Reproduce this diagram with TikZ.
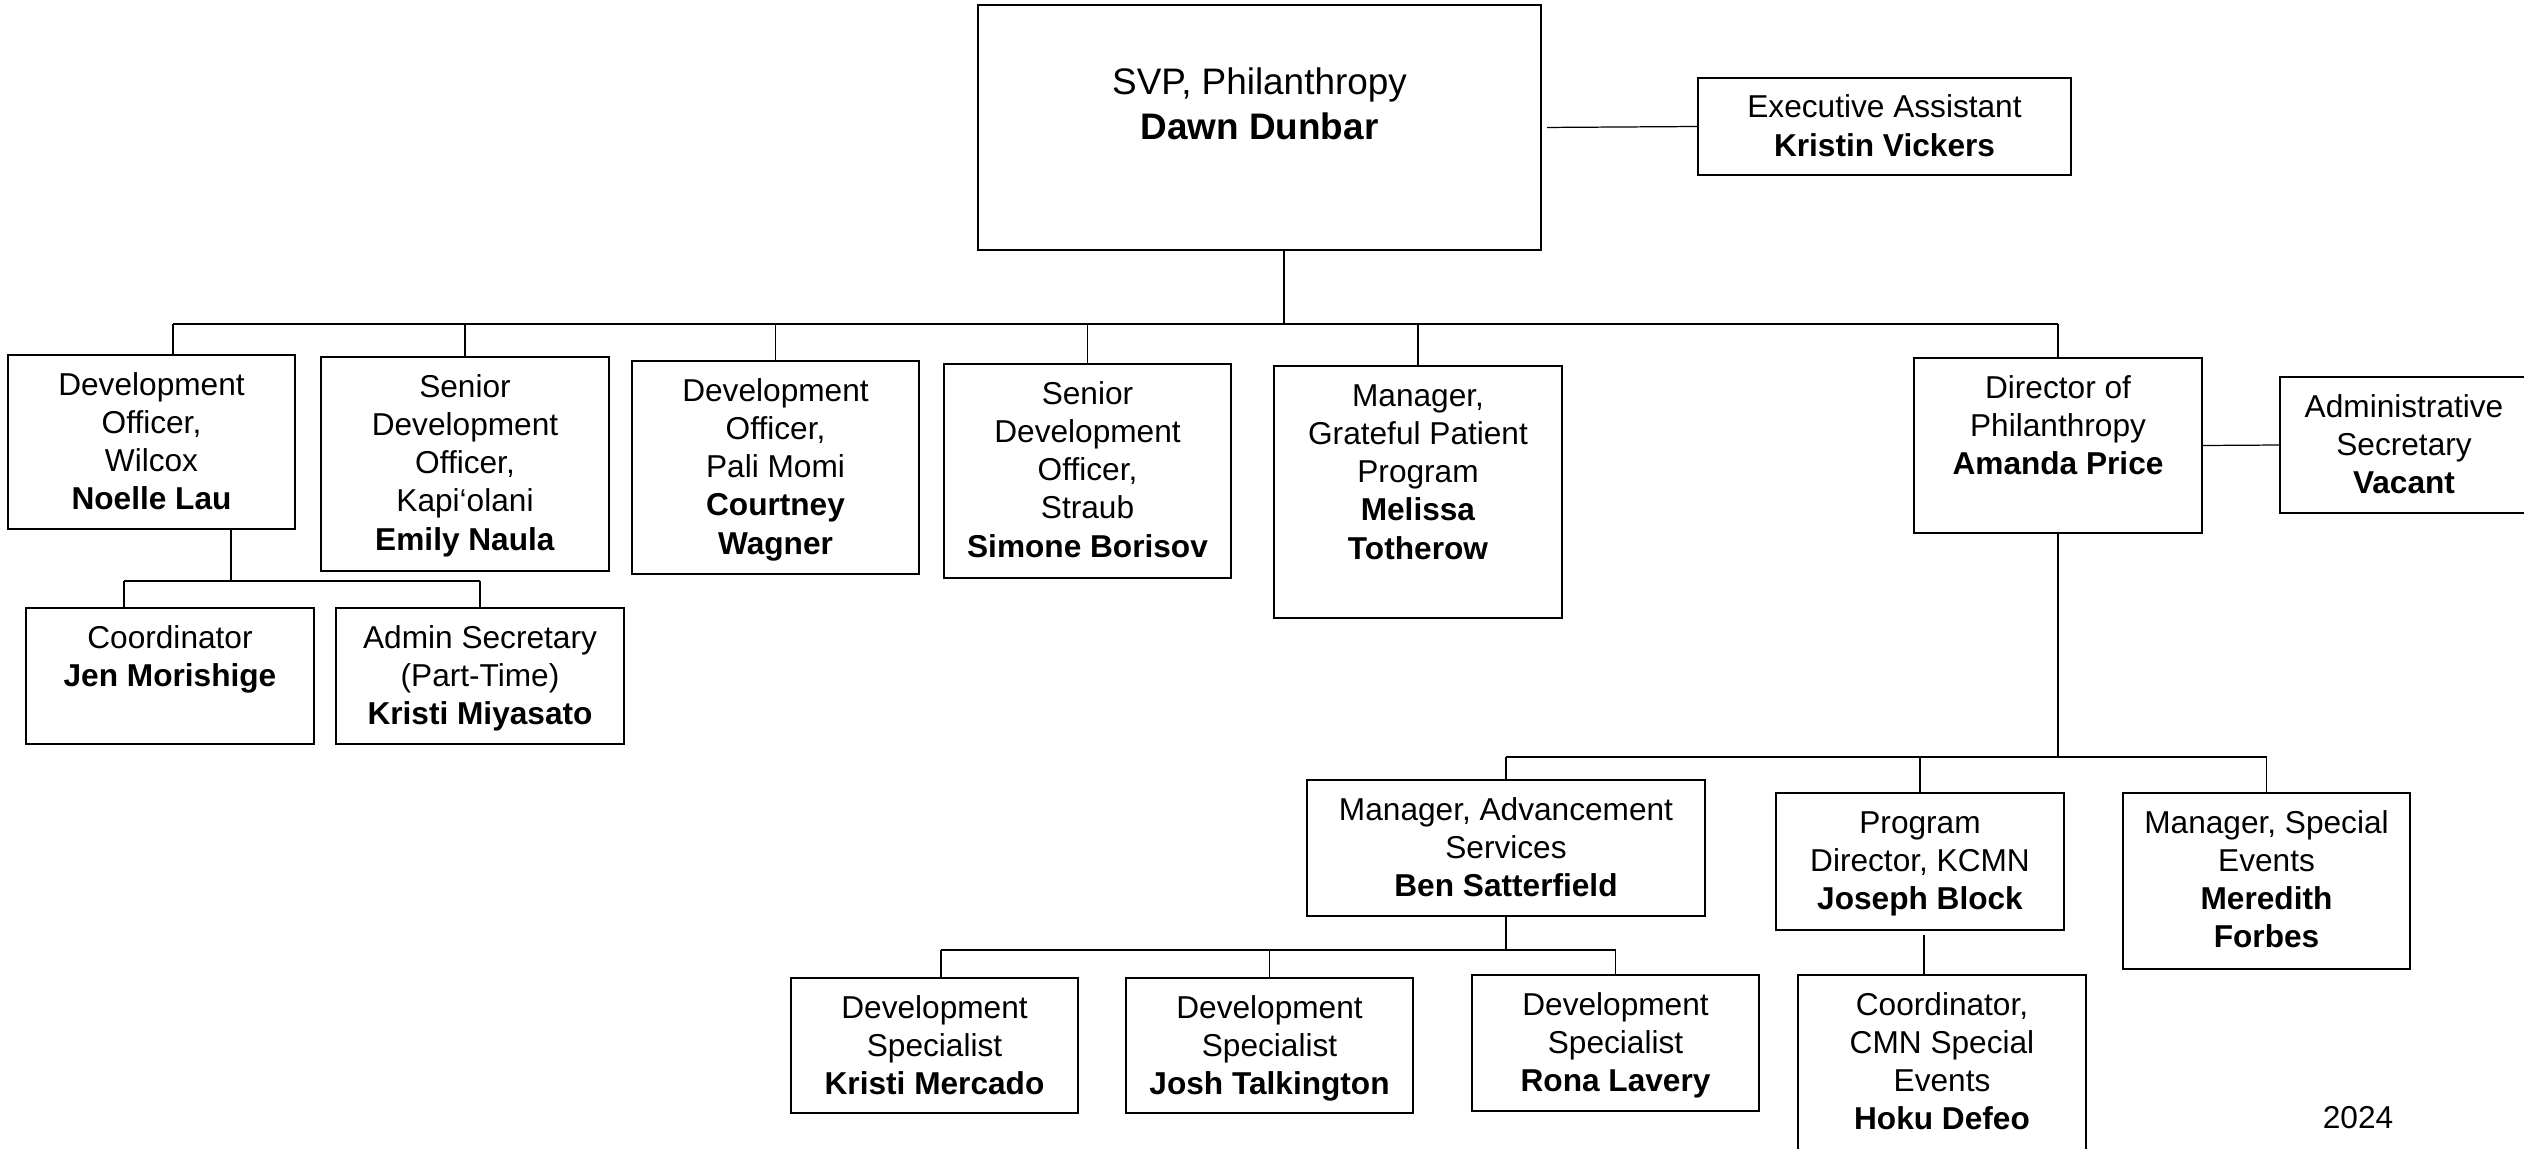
\documentclass[tikz,border=0pt]{standalone}
\usepackage{fontspec}
\setmainfont{Liberation Sans}
\newlength\pxu
\setlength\pxu{0.1mm}
\newcommand\bt[3]{\parbox[c][#2\pxu][t]{#1\pxu}{\centering\fontsize{9}{10.9}\selectfont\rule{0pt}{40\pxu}#3}}
\tikzset{
  box/.style={draw, line width=0.55pt, inner sep=0pt, outer sep=0pt, anchor=north west},
  conn/.style={line width=0.35pt},
}
\begin{document}
\begin{tikzpicture}[x=0.1mm,y=-0.1mm]
\useasboundingbox (0,0) rectangle (2524,1148);
% top
\node[box] (svp) at (978,5) {\parbox[c][245\pxu][t]{563\pxu}{\centering\fontsize{10.5}{12.8}\selectfont\rule{0pt}{90\pxu}SVP, Philanthropy\\\textbf{Dawn Dunbar}}};
\node[box] (ea) at (1698,78) {\bt{373}{97}{Executive Assistant\\\textbf{Kristin Vickers}}};
% level 2
\node[box] (noelle) at (8,355) {\bt{287}{174}{Development\\Officer,\\Wilcox\\\textbf{Noelle Lau}}};
\node[box] (emily) at (321,357) {\bt{288}{214}{Senior\\Development\\Officer,\\Kapi‘olani\\\textbf{Emily Naula}}};
\node[box] (courtney) at (632,361) {\bt{287}{213}{Development\\Officer,\\Pali Momi\\\textbf{Courtney}\\\textbf{Wagner}}};
\node[box] (simone) at (944,364) {\bt{287}{214}{Senior\\Development\\Officer,\\Straub\\\textbf{Simone Borisov}}};
\node[box] (melissa) at (1274,366) {\bt{288}{252}{Manager,\\Grateful Patient\\Program\\\textbf{Melissa}\\\textbf{Totherow}}};
\node[box] (amanda) at (1914,358) {\bt{288}{175}{Director of\\Philanthropy\\\textbf{Amanda Price}}};
\node[box] (vacant) at (2280,377) {\bt{248}{136}{Administrative\\Secretary\\\textbf{Vacant}}};
% under Noelle
\node[box] (jen) at (26,608) {\bt{288}{136}{Coordinator\\\textbf{Jen Morishige}}};
\node[box] (kristimy) at (336,608) {\bt{288}{136}{Admin Secretary\\(Part-Time)\\\textbf{Kristi Miyasato}}};
% under Amanda
\node[box] (ben) at (1307,780) {\bt{398}{136}{Manager, Advancement\\Services\\\textbf{Ben Satterfield}}};
\node[box] (joseph) at (1776,793) {\bt{288}{137}{Program\\Director, KCMN\\\textbf{Joseph Block}}};
\node[box] (meredith) at (2123,793) {\bt{287}{176}{Manager, Special\\Events\\\textbf{Meredith}\\\textbf{Forbes}}};
% under Ben
\node[box] (kristime) at (791,978) {\bt{287}{135}{Development\\Specialist\\\textbf{Kristi Mercado}}};
\node[box] (josh) at (1126,978) {\bt{287}{135}{Development\\Specialist\\\textbf{Josh Talkington}}};
\node[box] (rona) at (1472,975) {\bt{287}{136}{Development\\Specialist\\\textbf{Rona Lavery}}};
% under Joseph
\node[box] (hoku) at (1798,975) {\bt{288}{195}{Coordinator,\\CMN Special\\Events\\\textbf{Hoku Defeo}}};
% year
\node[anchor=base] (year) at (2358,1128) {\fontsize{9}{10.9}\selectfont 2024};
% coordinates
\coordinate (busA) at (0,324);
\coordinate (svpst) at (1284,0);
\coordinate (noelletop) at (173,355);
\coordinate (noellest) at (231,0);
\coordinate (busB) at (0,581);
\coordinate (jentop) at (124,608);
\coordinate (busC) at (0,757);
\coordinate (busD) at (0,950);
\coordinate (kmtop) at (941,978);
\coordinate (jh) at (1924,0);
% connectors
\draw[conn, shorten <=0.6mm] (svp.east) -- (ea.west);
\draw[conn] (svp.south -| svpst) -- (svpst |- busA);
\draw[conn] (noelletop |- busA) -- (amanda.north |- busA);
\draw[conn] (noelletop |- busA) -- (noelletop);
\foreach \n in {emily,courtney,simone,melissa,amanda}
  \draw[conn] (\n.north |- busA) -- (\n.north);
\draw[conn] (amanda.east) -- (vacant.west);
% Noelle subtree
\draw[conn] (noelle.south -| noellest) -- (noellest |- busB);
\draw[conn] (jentop |- busB) -- (kristimy.north |- busB);
\draw[conn] (jentop |- busB) -- (jentop);
\draw[conn] (kristimy.north |- busB) -- (kristimy.north);
% Amanda subtree
\draw[conn] (amanda.south) -- (amanda.south |- busC);
\draw[conn] (ben.north |- busC) -- (meredith.north |- busC);
\foreach \n in {ben,joseph,meredith}
  \draw[conn] (\n.north |- busC) -- (\n.north);
% Ben subtree
\draw[conn] (ben.south) -- (ben.south |- busD);
\draw[conn] (kmtop |- busD) -- (rona.north |- busD);
\draw[conn] (kmtop |- busD) -- (kmtop);
\foreach \n in {josh,rona}
  \draw[conn] (\n.north |- busD) -- (\n.north);
% Joseph to Hoku
\draw[conn, shorten <=0.5mm] (joseph.south -| jh) -- (hoku.north -| jh);
\end{tikzpicture}
\end{document}
